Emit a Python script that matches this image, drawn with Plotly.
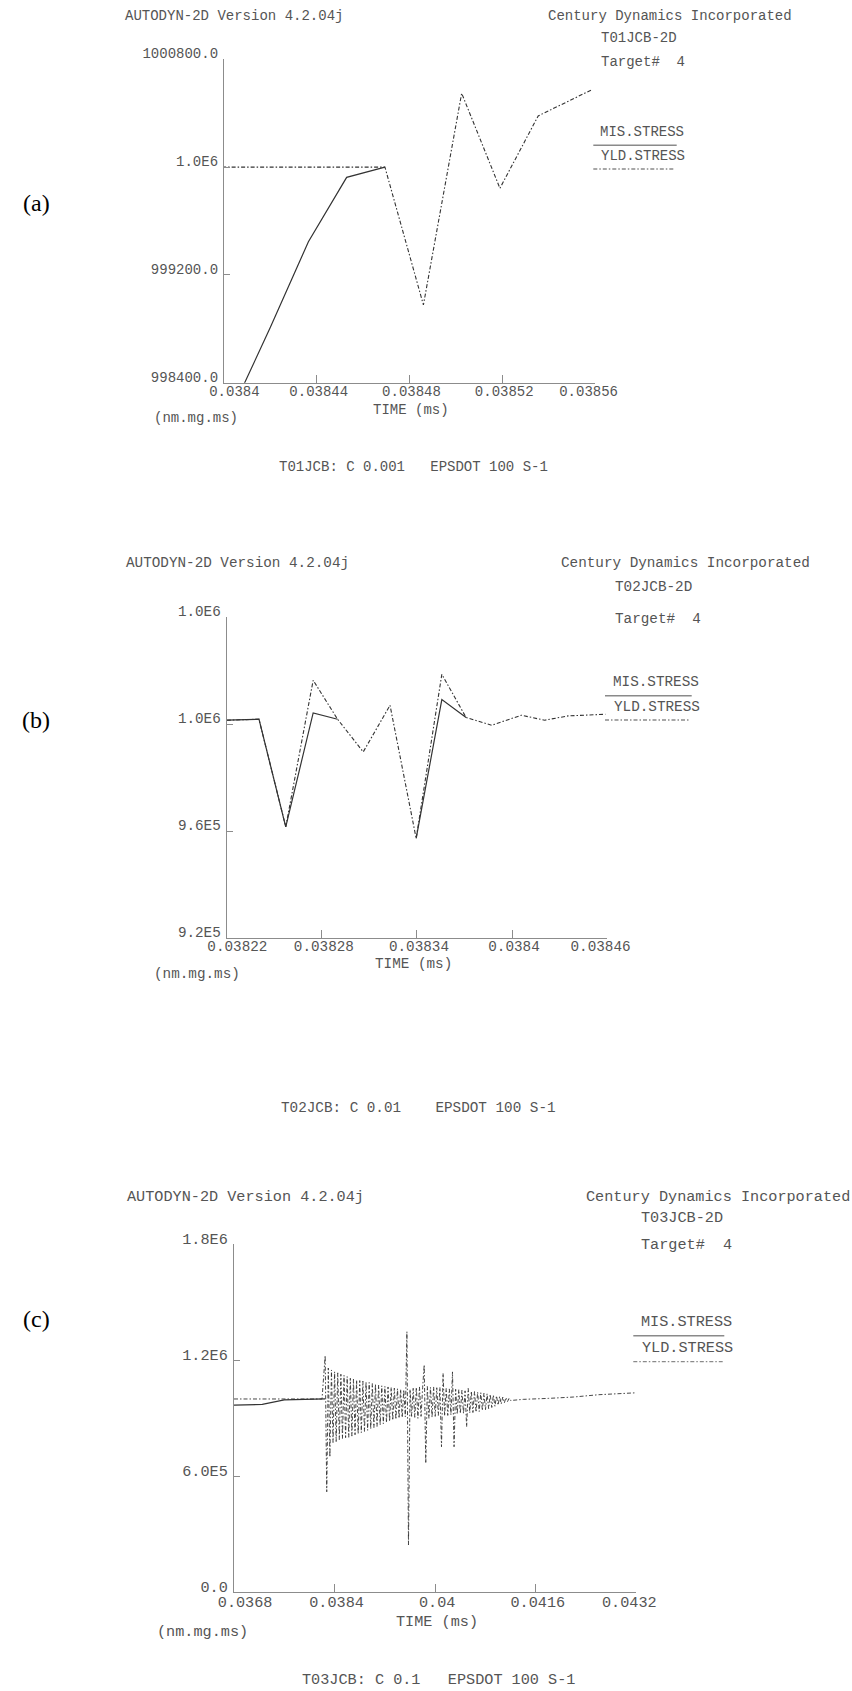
import plotly.graph_objects as go

# ---------------- data ----------------
# (a) T01JCB, C 0.001
time_a = [0.0383869, 0.0384034, 0.0384199, 0.0384364, 0.0384529, 0.0384694,
          0.038486, 0.0385025, 0.038519, 0.0385355, 0.038559]
mis_a = [None, 998195, 998807, 999446, 999924, 1000000,
         None, None, None, None, None]
yld_a = [1000000, 1000000, 1000000, 1000000, 1000000, 1000000,
         998977, 1000548, 999843, 1000380, 1000577]

# (b) T02JCB, C 0.01
time_b = [0.03822, 0.0382403, 0.0382572, 0.0382745, 0.0382899, 0.0383061,
          0.038323, 0.0383395, 0.0383557, 0.038371, 0.0383872, 0.0384059,
          0.0384206, 0.0384353, 0.0384589]
mis_b = [1001490, 1001860, 961600, 1004220, 1001860, None,
         None, 957270, 1009230, 1002500, None, None,
         None, None, None]
yld_b = [1001490, 1001860, 961600, 1016440, 1001860, 989640,
         1007100, 957270, 1018680, 1002500, 999620, 1003360,
         1001490, 1003100, 1003730]

# (c) T03JCB, C 0.1
time_c_mis = [0.0368, 0.03725, 0.0376, 0.03825]
mis_c = [968e3, 972e3, 995e3, 1000e3]

time_c = [0.0368, 0.0382,
          0.038250, 0.038275, 0.038300, 0.038325, 0.038350, 0.038375, 0.038400, 0.038425,
          0.038450, 0.038475, 0.038500, 0.038525, 0.038550, 0.038575, 0.038600, 0.038625,
          0.038650, 0.038675, 0.038700, 0.038725, 0.038750, 0.038775, 0.038800, 0.038825,
          0.038850, 0.038875, 0.038900, 0.038925, 0.038950, 0.038975, 0.039000, 0.039025,
          0.039050, 0.039075, 0.039100, 0.039125, 0.039150, 0.039175, 0.039200, 0.039225,
          0.039250, 0.039275, 0.039300, 0.039325, 0.039350, 0.039375, 0.039400, 0.039425,
          0.039450, 0.039475, 0.039500, 0.039525, 0.039550, 0.039575, 0.039600, 0.039625,
          0.039650, 0.039675, 0.039700, 0.039725, 0.039750, 0.039775, 0.039800, 0.039825,
          0.039850, 0.039875, 0.039900, 0.039925, 0.039950, 0.039975, 0.040000, 0.040025,
          0.040050, 0.040075, 0.040100, 0.040125, 0.040150, 0.040175, 0.040200, 0.040225,
          0.040250, 0.040275, 0.040300, 0.040325, 0.040350, 0.040375, 0.040400, 0.040425,
          0.040450, 0.040475, 0.040500, 0.040525, 0.040550, 0.040575, 0.040600, 0.040625,
          0.040650, 0.040675, 0.040700, 0.040725, 0.040750, 0.040775, 0.040800, 0.040825,
          0.040850, 0.040875, 0.040900, 0.040925, 0.040950, 0.040975, 0.041000, 0.041025,
          0.041050, 0.041075, 0.041100, 0.041125, 0.041150, 0.041175, 0.041200,
          0.04140, 0.04180, 0.04220, 0.04260, 0.04300, 0.04320]
yld_c = [1000e3, 1000e3,
         1224e3, 520e3, 1160e3, 700e3, 1150e3, 775e3, 1140e3, 780e3,
         1135e3, 790e3, 1128e3, 795e3, 1122e3, 800e3, 1116e3, 802e3,
         1107e3, 808e3, 1102e3, 815e3, 1098e3, 820e3, 1095e3, 826e3,
         1092e3, 832e3, 1088e3, 838e3, 1085e3, 845e3, 1080e3, 852e3,
         1076e3, 858e3, 1072e3, 865e3, 1068e3, 872e3, 1065e3, 878e3,
         1062e3, 884e3, 1060e3, 890e3, 1056e3, 895e3, 1053e3, 900e3,
         1050e3, 904e3, 1047e3, 908e3, 1348e3, 245e3, 1050e3, 910e3,
         1055e3, 905e3, 1060e3, 900e3, 1062e3, 910e3, 1058e3, 1176e3,
         667e3, 1065e3, 900e3, 1060e3, 905e3, 1062e3, 910e3, 1058e3,
         915e3, 1060e3, 753e3, 1133e3, 912e3, 1055e3, 915e3, 1052e3,
         918e3, 1140e3, 753e3, 1050e3, 922e3, 1048e3, 925e3, 1045e3,
         925e3, 1042e3, 856e3, 1055e3, 928e3, 1040e3, 930e3, 1038e3,
         932e3, 1035e3, 935e3, 1032e3, 940e3, 1030e3, 945e3, 1027e3,
         950e3, 1024e3, 956e3, 1020e3, 962e3, 1016e3, 968e3, 1013e3,
         974e3, 1010e3, 980e3, 1007e3, 986e3, 1004e3, 992e3,
         998e3, 1003e3, 1010e3, 1022e3, 1030e3, 1032e3]

# axis ticks
xticks_a = [0.0384, 0.03844, 0.03848, 0.03852, 0.03856]
xtext_a = ["\u00a0\u00a00.0384", "0.03844", "0.03848", "0.03852", "0.03856\u00a0\u00a0"]
yticks_a = [998400, 999200, 1000000, 1000800]
ytext_a = ["998400.0", "999200.0", "1.0E6", "1000800.0"]

xticks_b = [0.03822, 0.03828, 0.03834, 0.0384, 0.03846]
xtext_b = ["\u00a0\u00a00.03822", "0.03828", "0.03834", "0.0384", "0.03846\u00a0\u00a0"]
yticks_b = [920000, 960000, 1000000, 1040000]
ytext_b = ["9.2E5", "9.6E5", "1.0E6", "1.0E6"]

xticks_c = [0.0368, 0.0384, 0.04, 0.0416, 0.0432]
xtext_c = ["\u00a0\u00a00.0368", "0.0384", "0.04", "0.0416", "0.0432\u00a0\u00a0"]
yticks_c = [0, 600000, 1200000, 1800000]
ytext_c = ["0.0", "6.0E5", "1.2E6", "1.8E6"]

# ---------------- layout helpers ----------------
W, H = 852, 1691
MONO = "Liberation Mono"
TXT = "#555555"
AXC = "#8c8c8c"
LINE = "#333333"
DASHDOT = "4px,2px,1.5px,2px"


def fx(px):
    return px / W


def fy(py):
    return 1 - py / H


panels = [
    dict(x0=224, x1=595, top=59.3, bottom=382.7, fs=14,
         xr=[0.0384, 0.03856], yr=[998400, 1000800],
         xt=xticks_a, xtt=xtext_a, yt=yticks_a, ytt=ytext_a),
    dict(x0=226.8, x1=607.1, top=617.3, bottom=938, fs=14.3,
         xr=[0.03822, 0.03846], yr=[920000, 1040000],
         xt=xticks_b, xtt=xtext_b, yt=yticks_b, ytt=ytext_b),
    dict(x0=234, x1=636.4, top=1244.3, bottom=1592.3, fs=15.2,
         xr=[0.0368, 0.0432], yr=[0, 1800000],
         xt=xticks_c, xtt=xtext_c, yt=yticks_c, ytt=ytext_c),
]

fig = go.Figure()

series = [
    (time_a, mis_a, yld_a, time_a, 1.1),
    (time_b, mis_b, yld_b, time_b, 1.1),
    (time_c_mis, mis_c, yld_c, time_c, 0.9),
]

for i, (tm, mis, yld, ty, lw) in enumerate(series):
    sx = "x" if i == 0 else f"x{i+1}"
    sy = "y" if i == 0 else f"y{i+1}"
    fig.add_trace(go.Scatter(x=tm, y=mis, mode="lines", xaxis=sx, yaxis=sy,
                             line=dict(color=LINE, width=1.2),
                             connectgaps=False, showlegend=False,
                             name="MIS.STRESS"))
    fig.add_trace(go.Scatter(x=ty, y=yld, mode="lines", xaxis=sx, yaxis=sy,
                             line=dict(color=LINE, width=lw, dash=DASHDOT),
                             showlegend=False, name="YLD.STRESS"))

layout = dict(template="none", width=W, height=H,
              margin=dict(l=0, r=0, t=0, b=0, pad=0, autoexpand=False),
              paper_bgcolor="white", plot_bgcolor="white", showlegend=False)

for i, p in enumerate(panels):
    kx = "xaxis" if i == 0 else f"xaxis{i+1}"
    ky = "yaxis" if i == 0 else f"yaxis{i+1}"
    ax = "x" if i == 0 else f"x{i+1}"
    ay = "y" if i == 0 else f"y{i+1}"
    layout[kx] = dict(domain=[fx(p["x0"]), fx(p["x1"])], range=p["xr"],
                      anchor=ay, showline=True, linecolor=AXC, linewidth=1.3,
                      ticks="inside", ticklen=8, tickcolor=AXC, tickwidth=1.3,
                      tickvals=p["xt"], ticktext=p["xtt"], showgrid=False,
                      zeroline=False, ticklabelshift=2, ticklabelstandoff=-5,
                      automargin=False,
                      tickfont=dict(family=MONO, size=p["fs"], color=TXT))
    layout[ky] = dict(domain=[fy(p["bottom"]), fy(p["top"])], range=p["yr"],
                      anchor=ax, showline=True, linecolor=AXC, linewidth=1.3,
                      ticks="inside", ticklen=6, tickcolor=AXC, tickwidth=1.3,
                      tickvals=p["yt"], ticktext=p["ytt"], showgrid=False,
                      zeroline=False, ticklabelshift=-6, ticklabelstandoff=2,
                      automargin=False,
                      tickfont=dict(family=MONO, size=p["fs"], color=TXT))

fig.update_layout(**layout)

# ---------------- header / footer texts ----------------
texts = [
    # panel (a)
    ("AUTODYN-2D Version 4.2.04j", 123, 16, "left", 14),
    ("Century Dynamics Incorporated", 546, 16, "left", 14),
    ("T01JCB-2D", 599, 38.3, "left", 14),
    ("Target#\u00a0\u00a04", 599, 61.7, "left", 14),
    ("MIS.STRESS", 597.7, 132.3, "left", 14),
    ("YLD.STRESS", 599, 156, "left", 14),
    ("TIME (ms)", 410.7, 410, "center", 14),
    ("(nm.mg.ms)", 152, 418, "left", 14),
    ("T01JCB: C 0.001\u00a0\u00a0\u00a0EPSDOT 100 S-1", 277, 467, "left", 14),
    # panel (b)
    ("AUTODYN-2D Version 4.2.04j", 124.3, 563.3, "left", 14.3),
    ("Century Dynamics Incorporated", 558.6, 563.3, "left", 14.3),
    ("T02JCB-2D", 613.3, 586.7, "left", 14.3),
    ("Target#\u00a0\u00a04", 613.3, 619, "left", 14.3),
    ("MIS.STRESS", 610.7, 682.3, "left", 14.3),
    ("YLD.STRESS", 611.7, 707.3, "left", 14.3),
    ("TIME (ms)", 413, 964, "center", 14.3),
    ("(nm.mg.ms)", 151.7, 974, "left", 14.3),
    ("T02JCB: C 0.01\u00a0\u00a0\u00a0\u00a0EPSDOT 100 S-1", 279, 1107.6, "left", 14.3),
    # panel (c)
    ("AUTODYN-2D Version 4.2.04j", 125, 1196.7, "left", 15.2),
    ("Century Dynamics Incorporated", 583.9, 1196.7, "left", 15.2),
    ("T03JCB-2D", 639.3, 1218.3, "left", 15.2),
    ("Target#\u00a0\u00a04", 639.3, 1245, "left", 15.2),
    ("MIS.STRESS", 639, 1321.7, "left", 15.2),
    ("YLD.STRESS", 640, 1348.3, "left", 15.2),
    ("TIME (ms)", 436.7, 1622.3, "center", 15.2),
    ("(nm.mg.ms)", 155, 1631.7, "left", 15.2),
    ("T03JCB: C 0.1\u00a0\u00a0\u00a0EPSDOT 100 S-1", 300, 1680, "left", 15.2),
]

annotations = []
for t, x, y, anc, fs in texts:
    annotations.append(dict(text=t, x=fx(x), y=fy(y), xref="paper", yref="paper",
                            xanchor=anc, yanchor="middle", showarrow=False,
                            font=dict(family=MONO, size=fs, color=TXT)))

for lab, y in [("(a)", 203), ("(b)", 720), ("(c)", 1319)]:
    annotations.append(dict(text=lab, x=fx(36), y=fy(y), xref="paper", yref="paper",
                            xanchor="center", yanchor="middle", showarrow=False,
                            font=dict(family="Liberation Serif", size=24, color="black")))

# legend keys: solid line under MIS.STRESS, dash-dot line under YLD.STRESS
shapes = []
for (x0, x1, ys), (d0, d1, yd) in [((593.3, 676.7, 145.3), (593.3, 674, 169)),
                                     ((605, 691.7, 695.7), (605, 689, 720)),
                                     ((633.3, 724.3, 1335.7), (633.3, 722.7, 1361.7))]:
    shapes.append(dict(type="line", xref="paper", yref="paper",
                       x0=fx(x0), x1=fx(x1), y0=fy(ys), y1=fy(ys),
                       line=dict(color="#8a8a8a", width=1.6)))
    shapes.append(dict(type="line", xref="paper", yref="paper",
                       x0=fx(d0), x1=fx(d1), y0=fy(yd), y1=fy(yd),
                       line=dict(color="#8a8a8a", width=1.3, dash=DASHDOT)))

fig.update_layout(annotations=annotations, shapes=shapes)

fig.write_html("out.html")
